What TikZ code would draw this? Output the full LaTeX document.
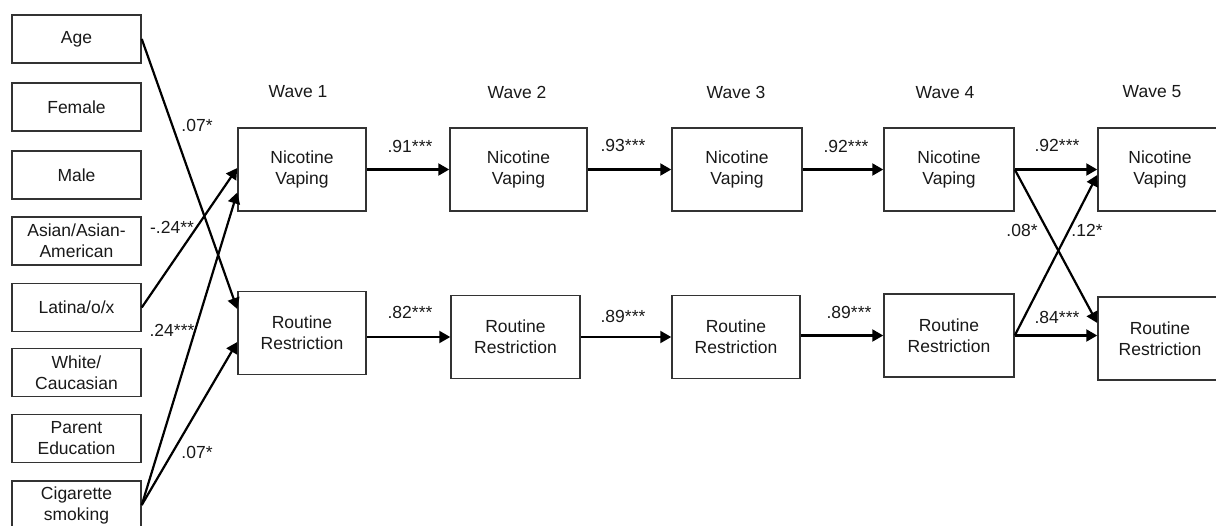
\documentclass[tikz,border=0pt]{standalone}
\usepackage{fontspec}
\setmainfont{Liberation Sans}
\usetikzlibrary{arrows.meta,calc}
\begin{document}
\begin{tikzpicture}[x=1pt,y=-1pt,
  box/.style={draw=black!80, line width=1.5pt, fill=white, align=center, inner sep=0pt,
    font=\fontsize{17.5}{21}\selectfont, text=black!90},
  lbox/.style={box, minimum width=129pt, minimum height=48pt},
  wbox/.style={box, minimum height=83pt},
  arr/.style={line width=2.2pt, -{Triangle[length=11pt,width=12pt]}},
  lab/.style={font=\fontsize{17.5}{21}\selectfont, text=black!90, inner sep=0pt},
]
\useasboundingbox (0,0) rectangle (1216,525);
\clip (0,0) rectangle (1216,525);

% left covariate boxes
\node[lbox] (age) at (76.5,39) {Age};
\node[lbox] (fem) at (76.5,107) {Female};
\node[lbox] (male) at (76.5,175) {Male};
\node[lbox] (asian) at (76.5,241) {Asian/Asian-\\American};
\node[lbox] (lat) at (76.5,307.5) {Latina/o/x};
\node[lbox] (white) at (76.5,372.5) {White/\\Caucasian};
\node[lbox] (par) at (76.5,438.5) {Parent\\Education};
\node[lbox] (cig) at (76.5,505) {Cigarette\\smoking};

% wave labels
\node[lab] (w1) at (298,92) {Wave 1};
\node[lab] (w2) at (517,92) {Wave 2};
\node[lab] (w3) at (736,92) {Wave 3};
\node[lab] (w4) at (945,93) {Wave 4};
\node[lab] (w5) at (1152,92) {Wave 5};

% wave boxes
\node[wbox, minimum width=128pt] (n1) at (302,169.5) {Nicotine\\Vaping};
\node[wbox, minimum width=137pt] (n2) at (518.5,169.5) {Nicotine\\Vaping};
\node[wbox, minimum width=130pt] (n3) at (737,169.5) {Nicotine\\Vaping};
\node[wbox, minimum width=130pt] (n4) at (949,169.5) {Nicotine\\Vaping};
\node[wbox, minimum width=124pt] (n5) at (1160,169.5) {Nicotine\\Vaping};

\node[wbox, minimum width=128pt] (r1) at (302,333) {Routine\\Restriction};
\node[wbox, minimum width=129pt] (r2) at (515.5,337) {Routine\\Restriction};
\node[wbox, minimum width=128pt] (r3) at (736,337) {Routine\\Restriction};
\node[wbox, minimum width=130pt] (r4) at (949,335.5) {Routine\\Restriction};
\node[wbox, minimum width=124pt] (r5) at (1160,338.5) {Routine\\Restriction};

% autoregressive paths
\draw[arr] (n1.east) -- (n2.west);
\draw[arr] (n2.east) -- (n3.west);
\draw[arr] (n3.east) -- (n4.west);
\draw[arr] (n4.east) -- (n5.west);
\draw[arr] (r1.east |- r2.west) -- (r2.west);
\draw[arr] (r2.east) -- (r3.west);
\draw[arr] (r3.east |- r4.west) -- (r4.west);
\draw[arr] (r4.east) -- (r4.east -| r5.west);

% cross-lagged paths
\draw[arr] (n4.east) -- ([yshift=15.5pt]r5.west);
\draw[arr] (r4.east) -- ([yshift=-5.5pt]n5.west);

% covariate paths
\draw[arr] (age.east) -- ([yshift=24pt]r1.west);
\draw[arr] (lat.east) -- ([yshift=1.5pt]n1.west);
\draw[arr] (cig.east) -- ([yshift=-23pt]n1.west);
\draw[arr] (cig.east) -- ([yshift=-9pt]r1.west);

% coefficient labels
\node[lab] (l1) at (410,146) {.91***};
\node[lab] (l2) at (623,145) {.93***};
\node[lab] (l3) at (846,146) {.92***};
\node[lab] (l4) at (1057,145) {.92***};
\node[lab] (l5) at (410,312) {.82***};
\node[lab] (l6) at (623,316) {.89***};
\node[lab] (l7) at (849,312) {.89***};
\node[lab] (l8) at (1057,317) {.84***};
\node[lab] (l9) at (1022,230) {.08*};
\node[lab] (l10) at (1087,230) {.12*};
\node[lab] (l11) at (197,125) {.07*};
\node[lab] (l12) at (172,227) {-.24**};
\node[lab] (l13) at (172,330) {.24***};
\node[lab] (l14) at (197,452) {.07*};
\end{tikzpicture}
\end{document}
